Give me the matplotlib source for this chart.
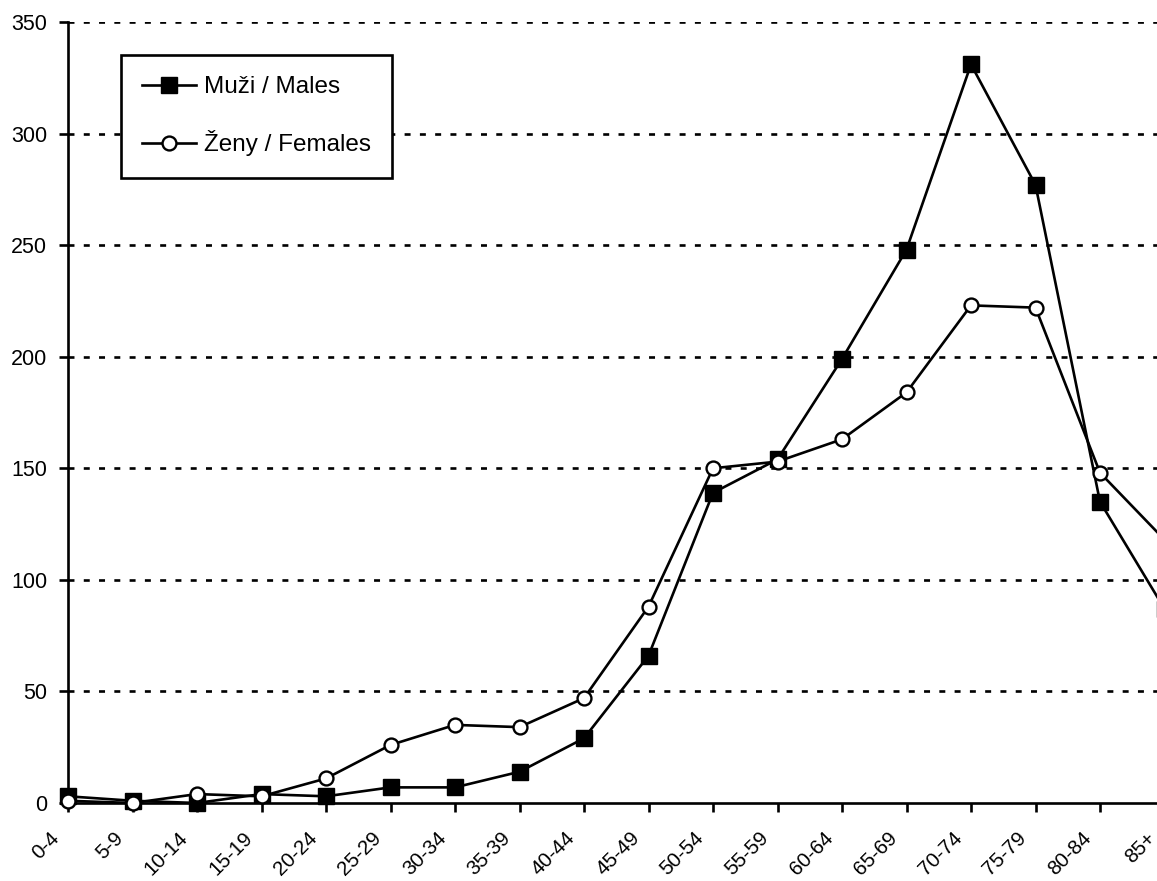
import matplotlib
matplotlib.use("Agg")
import matplotlib.pyplot as plt
from matplotlib import font_manager as fm
from matplotlib.transforms import ScaledTranslation, blended_transform_factory

categories = ["0-4", "5-9", "10-14", "15-19", "20-24", "25-29", "30-34", "35-39",
              "40-44", "45-49", "50-54", "55-59", "60-64", "65-69", "70-74",
              "75-79", "80-84", "85+"]
males = [3, 1, 0, 4, 3, 7, 7, 14, 29, 66, 139, 154, 199, 248, 331, 277, 135, 87]
females = [1, 0, 4, 3, 11, 26, 35, 34, 47, 88, 150, 153, 163, 184, 223, 222, 148, 118]
y_ticks = [0, 50, 100, 150, 200, 250, 300, 350]
label_m = "Muži / Males"
label_f = "Ženy / Females"

names = {f.name for f in fm.fontManager.ttflist}
if "Liberation Sans Narrow" in names:
    fam = ["Liberation Sans Narrow", "DejaVu Sans"]
    tick_fs, xlab_fs, leg_fs = 16, 16, 21
else:
    fam = ["Liberation Sans", "DejaVu Sans"]
    tick_fs, xlab_fs, leg_fs = 15.5, 14.8, 17.5
plt.rcParams["font.family"] = fam
plt.rcParams["lines.scale_dashes"] = False

W, H = 1157, 881
fig = plt.figure(figsize=(W / 100, H / 100), dpi=100)
x0, xr, yb, yt = 68, 1164.5, 803, 22
ax = fig.add_axes([x0 / W, (H - yb) / H, (xr - x0) / W, (yb - yt) / H])

x = list(range(len(categories)))
lw = 1.9
ax.plot(x, males, color="black", lw=lw, marker="s", ms=11, mfc="black",
        mec="black", mew=1.0, clip_on=False, zorder=3, label=label_m)
ax.plot(x, females, color="black", lw=lw, marker="o", ms=10, mfc="white",
        mec="black", mew=1.7, clip_on=False, zorder=4, label=label_f)

ax.set_xlim(0, len(categories) - 1)
ax.set_ylim(0, 350)
ax.set_yticks(y_ticks)
ax.set_yticklabels([str(v) for v in y_ticks], fontsize=tick_fs)
ax.set_xticks(x)
ax.set_xticklabels([])

trans = blended_transform_factory(ax.transData, ax.transAxes) + \
    ScaledTranslation(-12 / 100, -32 / 100, fig.dpi_scale_trans)
for i, cat in enumerate(categories):
    ax.text(i, 0, cat, transform=trans, rotation=45, ha="right", va="center",
            rotation_mode="anchor", fontsize=xlab_fs, clip_on=False)

for yv in y_ticks[1:]:
    ax.axhline(yv, color="black", lw=1.9, linestyle=(0, (4.3, 6.7)), zorder=1)

for s in ["top", "right"]:
    ax.spines[s].set_visible(False)
for s in ["left", "bottom"]:
    ax.spines[s].set_linewidth(1.9)
    ax.spines[s].set_zorder(2)
ax.tick_params(axis="y", direction="out", length=6.5, width=1.9, pad=8.5)
ax.tick_params(axis="x", direction="out", length=6.5, width=1.9)

leg = ax.legend(loc="upper left", bbox_to_anchor=(121 / W, 1 - 55 / H),
                bbox_transform=fig.transFigure, fontsize=leg_fs,
                frameon=True, fancybox=False, edgecolor="black", framealpha=1,
                handlelength=2.2, handletextpad=0.33, labelspacing=1.32,
                borderpad=0.88, borderaxespad=0)
leg.get_frame().set_linewidth(1.9)
leg.set_zorder(10)

fig.savefig("out.png", dpi=100)
